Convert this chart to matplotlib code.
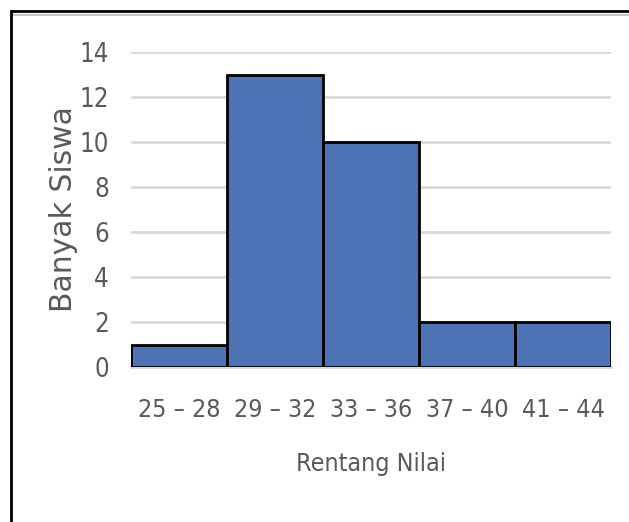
import matplotlib
matplotlib.use("Agg")
import matplotlib.pyplot as plt
from matplotlib.patches import Rectangle

# Frequency distribution of student scores
categories = ["25 – 28", "29 – 32", "33 – 36", "37 – 40", "41 – 44"]
counts = [1, 13, 10, 2, 2]
y_ticks = [0, 2, 4, 6, 8, 10, 12, 14]

W, H = 629, 522
fig = plt.figure(figsize=(W / 100, H / 100), dpi=100)

narrow = dict(family=["Liberation Sans Narrow", "DejaVu Sans"], stretch="condensed")
gray = "#595959"

ax = fig.add_axes([131 / W, 1 - 367 / H, (611 - 131) / W, (367 - 52) / H])
x = list(range(len(categories)))
ax.bar(x, counts, width=1.0, color="#4E73B4", edgecolor="black", linewidth=2, zorder=3)

ax.set_xlim(-0.5, len(categories) - 0.5)
ax.set_ylim(0, 14)
ax.set_yticks(y_ticks)
ax.set_xticks(x)
ax.set_xticklabels(categories, fontsize=18, color=gray, **narrow)
ax.set_yticklabels([str(v) for v in y_ticks], fontsize=18.5, color=gray, **narrow)
ax.tick_params(axis="both", length=0)
ax.tick_params(axis="y", pad=16)
ax.tick_params(axis="x", pad=22)

ax.grid(axis="y", color="#D9D9D9", linewidth=2, zorder=0)
for side in ("top", "right", "left"):
    ax.spines[side].set_visible(False)
ax.spines["bottom"].set_color("#D9D9D9")
ax.spines["bottom"].set_linewidth(2)

ax.set_xlabel("Rentang Nilai", fontsize=18, color=gray, labelpad=22, **narrow)
ax.set_ylabel("Banyak Siswa", family="DejaVu Sans", stretch="normal", fontsize=21.5,
              color=gray, labelpad=1)

# outer chart frame with a faint shadow under the top edge
fig.patches.append(Rectangle((11 / W, -0.1), 1.2, (1 - 11 / H) + 0.1, transform=fig.transFigure,
                             fill=False, edgecolor="black", linewidth=2, zorder=5))
fig.add_artist(plt.Line2D([13 / W, 1], [1 - 14.5 / H] * 2, transform=fig.transFigure,
                          color="#BFBFBF", linewidth=1.2, zorder=4))

fig.savefig("out.png", dpi=100)
